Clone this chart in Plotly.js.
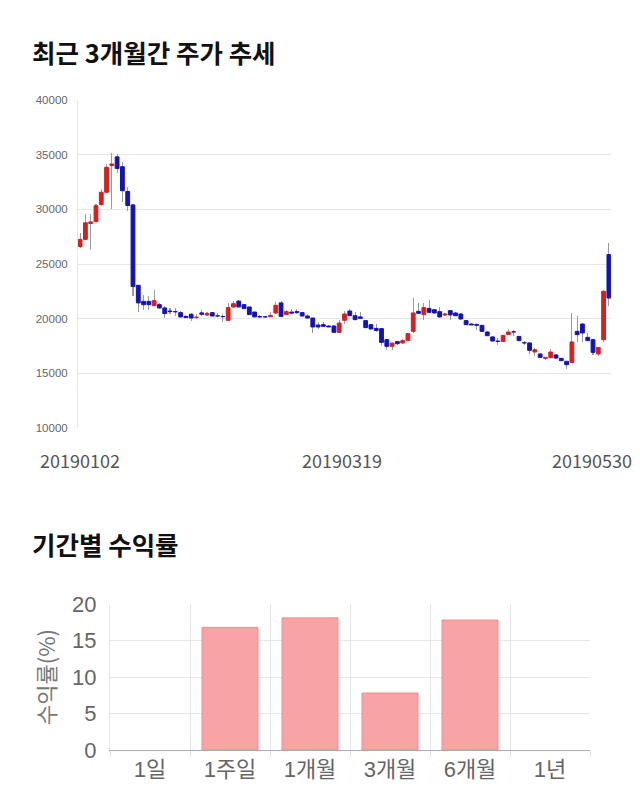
<!DOCTYPE html>
<html>
<head>
<meta charset="utf-8">
<script src="https://cdn.plot.ly/plotly-3.0.1.min.js"></script>
<style>html,body{margin:0;padding:0;background:#fff;}#chart{width:640px;height:810px;}</style>
</head>
<body>
<div id="chart"></div>
<script>
// Trading dates (categories)
var dates = [
'20190102','20190103','20190104','20190107','20190108','20190109','20190110','20190111','20190114','20190115',
'20190116','20190117','20190118','20190121','20190122','20190123','20190124','20190125','20190128','20190129',
'20190130','20190131','20190201','20190207','20190208','20190211','20190212','20190213','20190214','20190215',
'20190218','20190219','20190220','20190221','20190222','20190225','20190226','20190227','20190228','20190304',
'20190305','20190306','20190307','20190308','20190311','20190312','20190313','20190314','20190315','20190318',
'20190319','20190320','20190321','20190322','20190325','20190326','20190327','20190328','20190329','20190401',
'20190402','20190403','20190404','20190405','20190408','20190409','20190410','20190411','20190412','20190415',
'20190416','20190417','20190418','20190419','20190422','20190423','20190424','20190425','20190426','20190429',
'20190430','20190502','20190503','20190507','20190508','20190509','20190510','20190513','20190514','20190515',
'20190516','20190517','20190520','20190521','20190522','20190523','20190524','20190527','20190528','20190529',
'20190530'];

var openP = [
26600,27250,28700,28870,30430,31560,34000,34800,33900,31630,
30400,23050,21580,21580,21190,21280,20980,20700,20650,20550,
20200,20400,20100,20530,20340,20550,20260,20200,19850,21070,
21610,21280,21070,20610,20200,20170,20180,20520,21440,20370,
20600,20650,20550,20240,20060,19420,19450,19330,19330,18750,
19850,20700,20270,20160,19820,19450,19110,19090,18080,17470,
17900,17780,18010,18840,20670,20370,20940,20820,20640,20340,
20730,20520,20430,19820,19510,19480,19390,18780,18330,17950,
17920,18560,18800,18380,17800,17780,16950,16770,16370,16430,
16680,16370,16100,16000,18840,19510,18290,18080,16770,18080,
25860];
var highP = [
27850,29550,29600,30450,31880,34150,35160,35050,34300,32000,
30450,23100,22200,22100,22590,21400,21190,21000,20950,20700,
20350,20500,20400,20760,20600,20600,20500,20450,21440,21600,
21700,21350,21100,20650,20300,20250,20600,21500,21600,20750,
20900,20900,20600,20400,20100,19650,19650,19450,19400,19900,
20700,20850,20580,20600,19850,19500,19500,19150,18150,17800,
18000,18100,18700,21890,21440,21440,21740,20900,21100,20550,
20800,20600,20500,19900,19600,19550,19450,18850,18400,18230,
18500,19090,19000,18450,17950,17850,17300,16850,16500,17200,
16750,16420,16150,20520,20270,19600,18700,18150,17400,22600,
26930];
var lowP = [
26500,27200,26250,28800,30350,31500,30020,33280,30650,29830,
22040,20580,20760,20760,21150,20900,20060,20450,20250,20100,
20050,19750,19950,20270,20250,20200,20150,19700,19800,21000,
21050,20900,20350,20150,20100,20100,20150,20450,20150,20300,
20400,20400,20200,20000,18690,19100,19200,19200,18700,18700,
19550,20250,19850,19950,19150,19000,18750,17530,17140,17100,
17600,17700,17950,18700,20400,19910,20550,20450,20100,20250,
19900,20200,19900,19400,19400,19000,18800,18400,17900,17620,
17850,18500,18450,17950,17600,16800,16600,16400,16250,16380,
16350,16100,15400,15900,17900,17850,17950,16700,16550,17900,
21190];
var closeP = [
27250,28770,28850,30330,31560,33850,34150,33740,31700,30350,
22950,21440,21280,21280,21650,20980,20460,20650,20620,20160,
20100,20060,20150,20400,20460,20240,20240,20180,21010,21370,
21070,20920,20370,20160,20150,20160,20300,21220,20210,20640,
20500,20550,20240,20060,19240,19240,19300,19240,18750,19600,
20430,20270,19910,20030,19180,19060,18930,17830,17470,17770,
17710,17990,18630,20520,20490,21010,20580,20520,20160,20430,
20340,20270,19970,19450,19420,19390,18840,18440,17960,17920,
18470,18780,18780,17990,17780,17100,17160,16460,16460,16950,
16400,16160,15790,17870,18540,18690,17990,16920,17370,22500,
21890];

var xLabels = ['20190102','20190319','20190530'];

// Period returns
var periods = ['1일','1주일','1개월','3개월','6개월','1년'];
var returns = [null, 16.8, 18.1, 7.8, 17.8, null];

var UP = '#d42020', DOWN = '#1414b4';

var wickBase = [], wickLen = [], bodyBase = [], bodyLen = [], bodyColor = [];
for (var i = 0; i < dates.length; i++) {
  wickBase.push(lowP[i]);
  wickLen.push(highP[i] - lowP[i]);
  bodyBase.push(openP[i]);
  bodyLen.push(closeP[i] - openP[i]);
  bodyColor.push(closeP[i] >= openP[i] ? UP : DOWN);
}

var traces = [
  {type:'bar', x:dates, y:wickLen, base:wickBase, width:0.2,
   marker:{color:'#9a9a9a', line:{width:0}}, hoverinfo:'skip', xaxis:'x', yaxis:'y'},
  {type:'bar', x:dates, y:bodyLen, base:bodyBase, width:0.72,
   marker:{color:bodyColor, line:{color:bodyColor, width:1}}, xaxis:'x', yaxis:'y'},
  {type:'bar', x:periods, y:returns, width:0.7,
   marker:{color:'#f9a4a4', line:{color:'#f08c8c', width:1}}, xaxis:'x2', yaxis:'y2'}
];

var H = 810, W = 640;
function py(pix){ return (H - pix) / H; }
function px(pix){ return pix / W; }

var annotations = [
  {text:'최근 3개월간 주가 추세', xref:'paper', yref:'paper', x:px(30), y:py(51), xanchor:'left', yanchor:'middle',
   showarrow:false, font:{family:'Noto Sans CJK KR', size:25.5, color:'#111', weight:700}},
  {text:'기간별 수익률', xref:'paper', yref:'paper', x:px(30), y:py(543), xanchor:'left', yanchor:'middle',
   showarrow:false, font:{family:'Noto Sans CJK KR', size:25.5, color:'#111', weight:700}}
];
var shifts = [0, -3, -17];
for (var k = 0; k < xLabels.length; k++) {
  annotations.push({text:xLabels[k], xref:'x', yref:'paper', x:dates.indexOf(xLabels[k]), y:py(460),
    xanchor:'center', yanchor:'middle', xshift:shifts[k], showarrow:false,
    font:{family:'Noto Sans CJK KR', size:18, color:'#555'}});
}

var layout = {
  width:W, height:H, margin:{l:0, r:0, t:0, b:0},
  paper_bgcolor:'#fff', plot_bgcolor:'#fff', showlegend:false,
  barmode:'overlay', bargap:0,
  font:{family:'Liberation Sans, Noto Sans CJK KR', color:'#666'},
  xaxis:{type:'category', domain:[px(78), px(611)], anchor:'y', range:[-0.4, 100.4],
    showgrid:false, showticklabels:false, ticks:'', zeroline:false, showline:false, fixedrange:true},
  yaxis:{domain:[py(428), py(100)], anchor:'x', range:[10000, 40000], dtick:5000, tick0:10000,
    tickformat:'d', showgrid:true, gridcolor:'#e6e6e6', gridwidth:1, zeroline:false,
    showline:true, linecolor:'#e6e6e6', linewidth:1, ticks:'', ticklabelstandoff:7,
    tickfont:{family:'Liberation Sans', size:11.5, color:'#666'}},
  xaxis2:{type:'category', domain:[px(110), px(590)], anchor:'y2', tickson:'boundaries',
    showgrid:true, gridcolor:'#e6e6e6', ticks:'outside', ticklen:6, tickcolor:'#e0e0e0',
    showline:true, linecolor:'#aaa', linewidth:1, zeroline:false,
    tickfont:{family:'Liberation Sans, Noto Sans CJK KR', size:22, color:'#666'}},
  yaxis2:{domain:[py(750), py(604)], anchor:'x2', range:[0, 20], dtick:5,
    showgrid:true, gridcolor:'#e6e6e6', zeroline:false, ticks:'', ticklabelstandoff:8,
    showline:true, linecolor:'#e6e6e6', linewidth:1,
    tickfont:{family:'Liberation Sans', size:22, color:'#666'},
    title:{text:'수익률(%)', standoff:10, font:{family:'Noto Sans CJK KR', size:22, color:'#777'}}},
  annotations:annotations
};

Plotly.newPlot('chart', traces, layout, {staticPlot:true, displayModeBar:false});
</script>
</body>
</html>
